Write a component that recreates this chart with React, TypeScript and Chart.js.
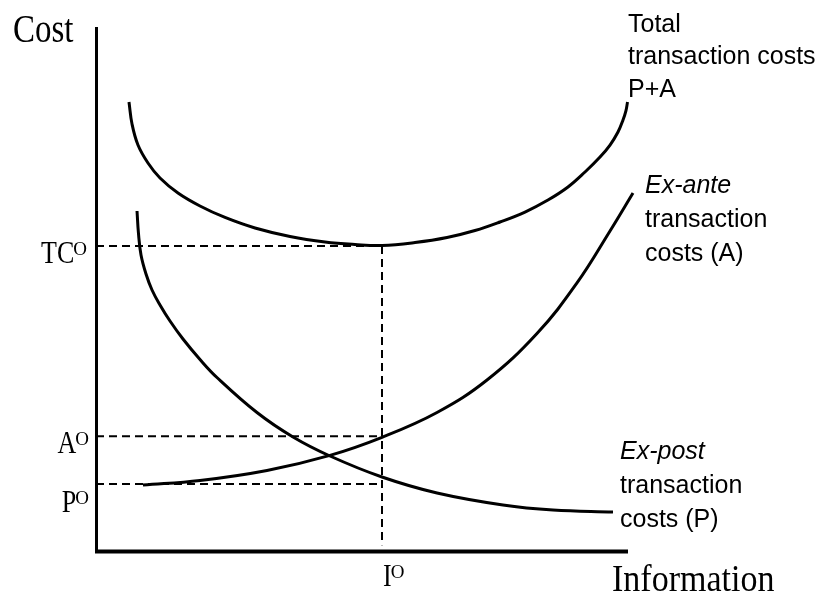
import React, { useEffect, useRef } from "react";
import { Chart, registerables } from "chart.js";

Chart.register(...registerables);

// Total transaction costs (P+A)
const tcX = [6.20, 6.77, 7.89, 9.77, 12.03, 15.41, 19.55, 24.25, 29.89, 36.47, 43.05, 48.68, 53.76,
  59.96, 65.98, 71.24, 75.94, 80.64, 84.96, 88.72, 91.92, 94.74, 96.62, 98.12, 99.06, 99.62, 99.91];
const tcY = [85.69, 81.49, 77.48, 74.05, 71.18, 68.32, 65.84, 63.65, 61.64, 60.02, 58.97, 58.49, 58.30,
  58.87, 59.83, 61.16, 62.79, 64.69, 66.98, 69.47, 72.33, 75.19, 77.48, 79.96, 82.25, 84.06, 85.69];

// Ex-post transaction costs (P)
const pX = [7.71, 7.99, 8.46, 9.40, 10.53, 12.03, 13.91, 16.35, 19.55, 22.74, 30.26, 37.03, 43.98, 53.76, 64.10, 76.50, 85.90, 97.18];
const pY = [64.89, 60.50, 56.49, 52.86, 49.81, 46.95, 43.89, 40.46, 36.55, 33.11, 26.43, 21.76, 18.13, 14.12, 11.07, 8.78, 7.82, 7.44];

// Ex-ante transaction costs (A)
const aX = [8.83, 19.55, 32.14, 43.98, 53.76, 64.10, 73.50, 82.89, 90.41, 96.62, 100.94];
const aY = [12.60, 13.47, 15.38, 18.26, 21.70, 26.43, 32.63, 41.51, 51.15, 61.07, 68.32];

// Optimum reference levels
const ioX = 53.76;
const tcO = 58.2;
const aO = 21.9;
const pO = 12.8;
const dashBottom = 1.1;

const xMin = 0;
const xMax = 100;
const yMin = 0;
const yMax = 100;

const SERIF = '"Liberation Serif", "Times New Roman", serif';
const SANS = '"Liberation Sans", Arial, sans-serif';

const toPts = (xs: number[], ys: number[]) => xs.map((x, i) => ({ x, y: ys[i] }));

function drawText(ctx: CanvasRenderingContext2D, text: string, x: number, baseline: number, font: string, sy = 1) {
  ctx.save();
  ctx.font = font;
  ctx.textAlign = "left";
  ctx.textBaseline = "alphabetic";
  ctx.fillStyle = "#000";
  ctx.translate(x, baseline);
  ctx.scale(1, sy);
  ctx.fillText(text, 0, 0);
  ctx.restore();
}

function drawSup(ctx: CanvasRenderingContext2D, base: string, x: number, baseline: number, anchorRight: boolean) {
  const baseFont = `26px ${SERIF}`;
  const supFont = `19px ${SERIF}`;
  ctx.save();
  ctx.font = baseFont;
  const wb = ctx.measureText(base).width;
  ctx.font = supFont;
  const ws = ctx.measureText("O").width;
  ctx.restore();
  const start = anchorRight ? x - wb - ws : x;
  drawText(ctx, base, start, baseline, baseFont, 1.18);
  drawText(ctx, "O", start + wb - 1, baseline - 8, supFont, 0.95);
}

const overlay = {
  id: "overlay",
  afterDraw(chart: any) {
    const ctx: CanvasRenderingContext2D = chart.ctx;
    const xs = chart.scales.x;
    const ys = chart.scales.y;
    const left = xs.getPixelForValue(xMin);
    const right = xs.getPixelForValue(xMax);
    const top = ys.getPixelForValue(yMax);
    const bottom = ys.getPixelForValue(yMin);

    ctx.save();
    ctx.strokeStyle = "#000";
    ctx.lineCap = "butt";
    ctx.lineWidth = 3;
    ctx.beginPath();
    ctx.moveTo(left + 0.5, top);
    ctx.lineTo(left + 0.5, bottom + 2);
    ctx.stroke();
    ctx.lineWidth = 4;
    ctx.beginPath();
    ctx.moveTo(left - 1, bottom + 0.5);
    ctx.lineTo(right, bottom + 0.5);
    ctx.stroke();
    ctx.restore();

    // axis titles
    drawText(ctx, "Cost", 13, 42, `33px ${SERIF}`, 1.2);
    drawText(ctx, "Information", 612, 591, `34px ${SERIF}`, 1.1);

    // optimum labels
    drawSup(ctx, "TC", left - 8, ys.getPixelForValue(tcO) + 17, true);
    drawSup(ctx, "A", left - 6, ys.getPixelForValue(aO) + 17, true);
    drawSup(ctx, "P", left - 6, ys.getPixelForValue(pO) + 28, true);
    drawSup(ctx, "I", xs.getPixelForValue(ioX) + 1, bottom + 35, false);

    // curve labels
    const f = `25px ${SANS}`;
    const fi = `italic 25px ${SANS}`;
    drawText(ctx, "Total", 628, 32, f);
    drawText(ctx, "transaction costs", 628, 64, f);
    drawText(ctx, "P+A", 628, 97, f);

    drawText(ctx, "Ex-ante", 645, 193, fi);
    drawText(ctx, "transaction", 645, 227, f);
    drawText(ctx, "costs (A)", 645, 261, f);

    drawText(ctx, "Ex-post", 620, 459, fi);
    drawText(ctx, "transaction", 620, 493, f);
    drawText(ctx, "costs (P)", 620, 527, f);
  },
};

export default function App() {
  const ref = useRef<HTMLCanvasElement | null>(null);

  useEffect(() => {
    if (!ref.current) return;
    const curve = (data: any) => ({
      data,
      borderColor: "#000",
      borderWidth: 3,
      pointRadius: 0,
      fill: false,
      tension: 0.4,
      borderCapStyle: "butt" as const,
      borderJoinStyle: "round" as const,
      clip: false as any,
    });
    const dashed = (data: any) => ({
      data,
      borderColor: "#000",
      borderWidth: 2,
      borderDash: [8, 5],
      pointRadius: 0,
      fill: false,
      tension: 0,
      clip: false as any,
    });
    const chart = new Chart(ref.current, {
      type: "line",
      data: {
        datasets: [
          dashed([{ x: xMin, y: tcO }, { x: ioX, y: tcO }]),
          dashed([{ x: xMin, y: aO }, { x: ioX, y: aO }]),
          dashed([{ x: xMin, y: pO }, { x: ioX, y: pO }]),
          dashed([{ x: ioX, y: tcO }, { x: ioX, y: dashBottom }]),
          curve(toPts(tcX, tcY)),
          curve(toPts(pX, pY)),
          curve(toPts(aX, aY)),
        ],
      },
      options: {
        responsive: false,
        animation: false,
        layout: { padding: { left: 96, right: 191, top: 27, bottom: 44 } },
        plugins: { legend: { display: false }, tooltip: { enabled: false } },
        scales: {
          x: { type: "linear", min: xMin, max: xMax, display: false },
          y: { type: "linear", min: yMin, max: yMax, display: false },
        },
      },
      plugins: [overlay],
    });
    return () => chart.destroy();
  }, []);

  return (
    <div style={{ position: "absolute", left: 0, top: 0, width: 819, height: 595, background: "#fff" }}>
      <canvas ref={ref} width={819} height={595} style={{ display: "block" }} />
    </div>
  );
}
